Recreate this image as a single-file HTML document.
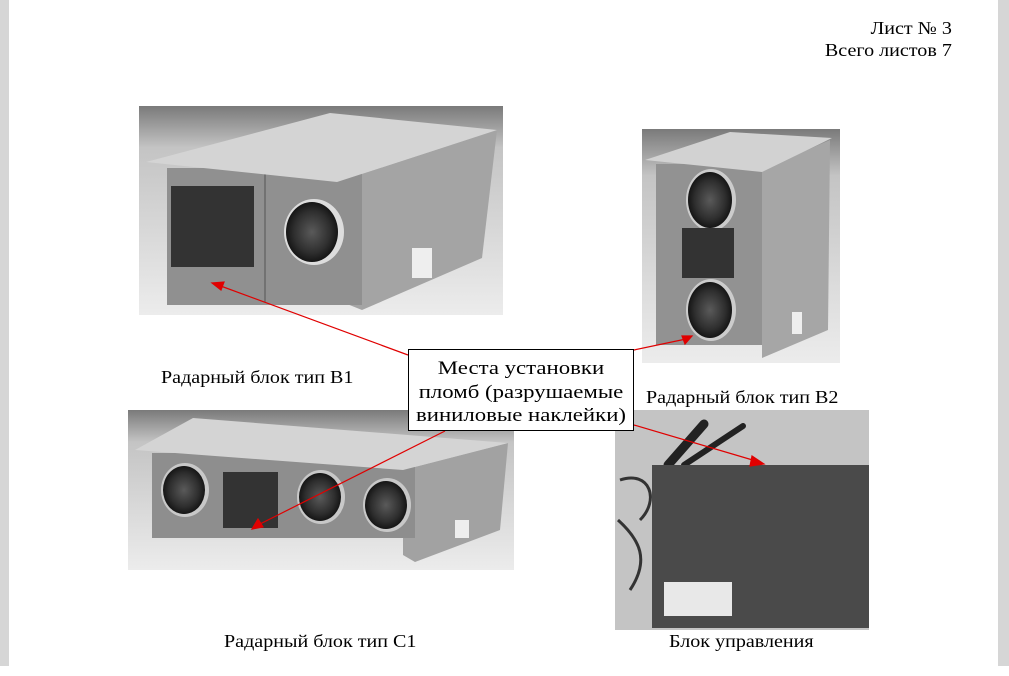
<!DOCTYPE html>
<html><head><meta charset="utf-8"><style>
html,body{margin:0;padding:0;background:#fff;}
body{width:1009px;height:676px;position:relative;overflow:hidden;font-family:"Liberation Serif",serif;color:#000;}
.t{position:absolute;font-size:18px;white-space:nowrap;line-height:20px;transform:scaleX(1.115);transform-origin:left top;}
.r{transform-origin:right top;}
</style></head><body>
<div style="position:absolute;left:0;top:0;width:9px;height:666px;background:#d6d6d6"></div>
<div style="position:absolute;left:998px;top:0;width:11px;height:666px;background:#d6d6d6"></div>
<div class="t r" style="right:57px;top:18px">Лист № 3</div>
<div class="t r" style="right:57px;top:40px">Всего листов 7</div>
<svg width="1009" height="676" style="position:absolute;left:0;top:0">
<defs>
<linearGradient id="bg" x1="0" y1="0" x2="0" y2="1"><stop offset="0" stop-color="#7a7a7a"/><stop offset="0.2" stop-color="#c4c4c4"/><stop offset="1" stop-color="#ececec"/></linearGradient>
<radialGradient id="lens"><stop offset="0" stop-color="#5a5a5a"/><stop offset="0.7" stop-color="#2e2e2e"/><stop offset="1" stop-color="#151515"/></radialGradient>
</defs>
<!-- B1 -->
<rect x="139" y="106" width="364" height="209" fill="url(#bg)"/>
<polygon points="337,182 497,130 482,258 362,310 337,300" fill="#a4a4a4"/>
<rect x="167" y="168" width="195" height="137" fill="#909090"/>
<rect x="171" y="186" width="83" height="81" fill="#333"/>
<line x1="265" y1="172" x2="265" y2="302" stroke="#555"/>
<ellipse cx="314" cy="232" rx="30" ry="33" fill="#ddd"/>
<ellipse cx="312" cy="232" rx="26" ry="30" fill="url(#lens)"/>
<polygon points="146,162 330,113 497,130 337,182" fill="#d4d4d4"/>
<rect x="412" y="248" width="20" height="30" fill="#eee"/>
<!-- B2 -->
<rect x="642" y="129" width="198" height="234" fill="url(#bg)"/>
<polygon points="762,170 830,140 828,330 762,358" fill="#a6a6a6"/>
<rect x="656" y="164" width="106" height="181" fill="#929292"/>
<polygon points="645,160 730,132 832,138 762,172" fill="#d2d2d2"/>
<ellipse cx="711" cy="200" rx="25" ry="31" fill="#ccc"/>
<ellipse cx="710" cy="200" rx="22" ry="28" fill="url(#lens)"/>
<ellipse cx="711" cy="310" rx="25" ry="31" fill="#ccc"/>
<ellipse cx="710" cy="310" rx="22" ry="28" fill="url(#lens)"/>
<rect x="682" y="228" width="52" height="50" fill="#333"/>
<rect x="792" y="312" width="10" height="22" fill="#eee"/>
<!-- C1 -->
<rect x="128" y="410" width="386" height="160" fill="url(#bg)"/>
<polygon points="403,470 508,443 500,530 415,562 403,555" fill="#a2a2a2"/>
<rect x="152" y="453" width="263" height="85" fill="#8e8e8e"/>
<polygon points="135,450 193,418 508,443 403,470" fill="#d4d4d4"/>
<ellipse cx="185" cy="490" rx="24" ry="27" fill="#c8c8c8"/>
<ellipse cx="184" cy="490" rx="21" ry="24" fill="url(#lens)"/>
<ellipse cx="321" cy="497" rx="24" ry="27" fill="#c8c8c8"/>
<ellipse cx="320" cy="497" rx="21" ry="24" fill="url(#lens)"/>
<ellipse cx="387" cy="505" rx="24" ry="27" fill="#c8c8c8"/>
<ellipse cx="386" cy="505" rx="21" ry="24" fill="url(#lens)"/>
<rect x="223" y="472" width="55" height="56" fill="#333"/>
<rect x="455" y="520" width="14" height="18" fill="#eee"/>
<!-- Control -->
<rect x="615" y="410" width="254" height="220" fill="#c4c4c4"/>
<path d="M620,480 C650,470 660,500 640,520 M618,520 C640,540 650,560 630,590" stroke="#333" stroke-width="3" fill="none"/>
<line x1="668" y1="465" x2="704" y2="424" stroke="#222" stroke-width="9" stroke-linecap="round"/>
<line x1="684" y1="465" x2="743" y2="426" stroke="#222" stroke-width="6" stroke-linecap="round"/>
<rect x="652" y="465" width="217" height="163" fill="#4a4a4a"/>
<rect x="664" y="582" width="68" height="34" fill="#e8e8e8"/>
<!-- arrows -->
<g stroke="#e00000" stroke-width="1.2" fill="#e00000">
<line x1="408" y1="355" x2="218" y2="285"/><polygon points="212,283 224,282 221,290"/>
<line x1="634" y1="350" x2="686" y2="339"/><polygon points="692,336 682,336 685,344" />
<line x1="445" y1="431" x2="260" y2="524"/><polygon points="252,529 258,519 263,527"/>
<line x1="634" y1="425" x2="756" y2="461"/><polygon points="764,464 752,456 750,466"/>
</g>
</svg>
<div style="position:absolute;left:408px;top:349px;width:224px;height:80px;border:1px solid #000;background:#fff;"></div>
<div style="position:absolute;left:408px;width:226px;top:357px;text-align:center;font-size:19px;line-height:23.5px;"><div style="transform:scaleX(1.2);white-space:nowrap">Места установки<br>пломб (разрушаемые<br>виниловые наклейки)</div></div>
<div class="t" style="left:161px;top:367px">Радарный блок тип B1</div>
<div class="t" style="left:646px;top:387px">Радарный блок тип B2</div>
<div class="t" style="left:224px;top:631px">Радарный блок тип C1</div>
<div class="t" style="left:669px;top:631px">Блок управления</div>
</body></html>
